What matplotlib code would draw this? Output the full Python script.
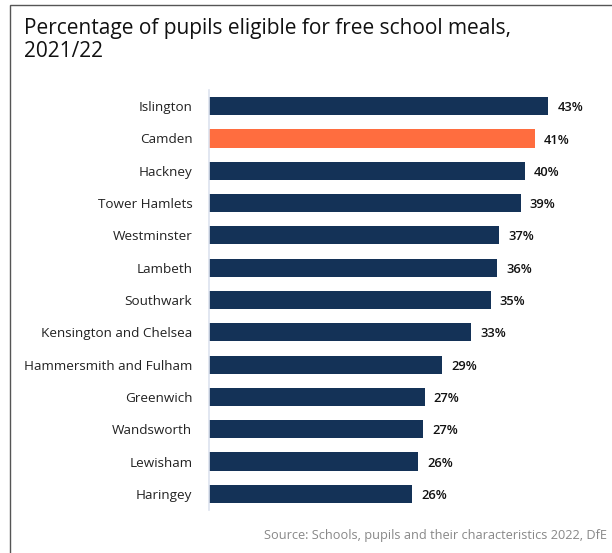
import matplotlib.pyplot as plt
from matplotlib.patches import Rectangle

boroughs = ["Islington", "Camden", "Hackney", "Tower Hamlets", "Westminster",
            "Lambeth", "Southwark", "Kensington and Chelsea",
            "Hammersmith and Fulham", "Greenwich", "Wandsworth", "Lewisham",
            "Haringey"]
values = [43.1, 41.4, 40.1, 39.6, 36.9, 36.6, 35.8, 33.3, 29.6, 27.4, 27.2, 26.6, 25.8]
value_labels = ["43%", "41%", "40%", "39%", "37%", "36%", "35%", "33%",
                "29%", "27%", "27%", "26%", "26%"]
highlight = "Camden"

navy = "#143257"
orange = "#ff6d3f"

W, H = 612, 553
fig = plt.figure(figsize=(W / 100, H / 100), dpi=100)
plt.rcParams['font.family'] = ['Open Sans', 'DejaVu Sans']

# outer frame (left + top visible, right/bottom cropped off)
fig.patches.append(Rectangle((10 / W, -0.05), 1.2, 1 - 5 / H + 0.05,
                             transform=fig.transFigure, fill=False,
                             edgecolor="#555555", linewidth=1.0))

ax = fig.add_axes([209 / W, 1 - 510 / H, 381 / W, 420 / H])
ypos = list(range(len(boroughs)))
colors = [orange if b == highlight else navy for b in boroughs]
ax.barh(ypos, values, height=0.56, color=colors)
ax.set_ylim(len(boroughs) - 0.5, -0.5)
ax.set_xlim(0, 48.4)

for y, v, lab in zip(ypos, values, value_labels):
    ax.text(v + 1.15, y + 0.05, lab, va="center", ha="left", fontsize=9.3,
            fontweight="semibold", color="#111111")

ax.set_yticks(ypos)
ax.set_yticklabels(boroughs, fontsize=9.7, color="#222222")
ax.tick_params(axis="y", length=0, pad=12)
ax.set_xticks([])
for s in ["top", "right", "bottom"]:
    ax.spines[s].set_visible(False)
ax.spines["left"].set_color("#dde3ef")
ax.spines["left"].set_linewidth(1.2)

fig.text(24 / W, 1 - 18 / H, "Percentage of pupils eligible for free school meals,\n2021/22",
         ha="left", va="top", fontsize=15, color="#111111", linespacing=1.1)
fig.text(607 / W, 1 - 536 / H, "Source: Schools, pupils and their characteristics 2022, DfE",
         ha="right", va="center", fontsize=9.2, color="#888888")

fig.savefig("out.png", dpi=100)
